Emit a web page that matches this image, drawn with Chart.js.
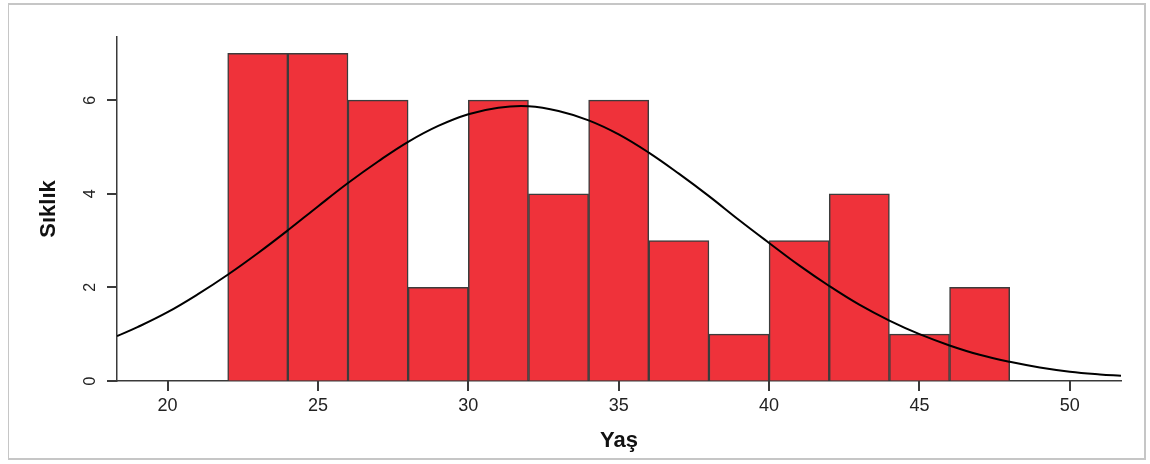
<!DOCTYPE html>
<html lang="tr">
<head>
<meta charset="utf-8">
<title>Yaş dağılımı</title>
<script src="https://cdn.jsdelivr.net/npm/chart.js@4/dist/chart.umd.min.js"></script>
<style>
  html, body { margin: 0; padding: 0; background: #ffffff; }
  #wrap { position: relative; width: 1150px; height: 464px; overflow: hidden; }
  #frame {
    position: absolute; left: 8px; top: 3px; width: 1138px; height: 457px;
    box-sizing: border-box; border: 2px solid #c6c6c6; border-left-width: 1px; border-top-width: 2px;
  }
  #c { position: absolute; left: 0; top: 0; }
</style>
</head>
<body>
<div id="wrap">
  <div id="frame"></div>
  <canvas id="c" width="1150" height="464"></canvas>
</div>
<script>
// Age histogram: bins of width 2 starting at each value of binStarts
const binStarts = [22, 24, 26, 28, 30, 32, 34, 36, 38, 40, 42, 44, 46];
const binWidth = 2;
const counts = [7, 7, 6, 2, 6, 4, 6, 3, 1, 3, 4, 1, 2];

// Fitted normal curve, sampled along the age axis
const curveX = [18.32, 19, 20, 21, 22, 23, 24, 25, 26, 27, 28, 29, 30, 31, 32, 33, 34, 35,
                36, 37, 38, 39, 40, 41, 42, 43, 44, 45, 46, 47, 48, 49, 50, 51, 51.7];
const curveY = [0.96, 1.15, 1.47, 1.85, 2.27, 2.73, 3.22, 3.73, 4.23, 4.69, 5.11, 5.45, 5.70, 5.84, 5.87, 5.77, 5.57, 5.27,
                4.88, 4.43, 3.95, 3.44, 2.95, 2.47, 2.03, 1.63, 1.29, 1.00, 0.76, 0.56, 0.41, 0.29, 0.20, 0.14, 0.11];

// Axis ranges and tick steps
const xRange = [18.32, 51.7];
const yRange = [0, 7.35];
const xStep = 5;
const yStep = 2;

const FONT = '"Liberation Sans", Arial, sans-serif';
const AXIS_COLOR = '#3a3a3a';
const TICK_LEN = 10;

const barData = binStarts.map((s, i) => ({ x: s + binWidth / 2, y: counts[i] }));
const curveData = curveX.map((x, i) => ({ x: x, y: curveY[i] }));

// Outward tick marks on both axes, and y tick labels written rotated (reading bottom to top)
const axisDecor = {
  id: 'axisDecor',
  afterDraw(chart) {
    const xs = chart.scales.x;
    const ys = chart.scales.y;
    const area = chart.chartArea;
    const ctx = chart.ctx;
    ctx.save();
    ctx.fillStyle = AXIS_COLOR;
    xs.ticks.forEach(t => {
      const x = Math.round(xs.getPixelForValue(t.value));
      ctx.fillRect(x - 1, area.bottom, 2, TICK_LEN);
    });
    ys.ticks.forEach(t => {
      const y = Math.round(ys.getPixelForValue(t.value));
      ctx.fillRect(area.left - TICK_LEN, y - 1, TICK_LEN, 2);
    });

    ctx.fillStyle = '#222222';
    ctx.font = '16px ' + FONT;
    ctx.textAlign = 'center';
    ctx.textBaseline = 'middle';
    ys.ticks.forEach(t => {
      const y = ys.getPixelForValue(t.value);
      ctx.save();
      ctx.translate(91, y);
      ctx.rotate(-Math.PI / 2);
      ctx.fillText(String(t.value), 0, 0);
      ctx.restore();
    });
    ctx.restore();
  }
};

new Chart(document.getElementById('c'), {
  data: {
    datasets: [
      {
        type: 'line',
        data: curveData,
        borderColor: '#000000',
        borderWidth: 2,
        pointRadius: 0,
        tension: 0.4,
        fill: false
      },
      {
        type: 'bar',
        data: barData,
        backgroundColor: '#ef323a',
        borderColor: '#3c3c3c',
        borderWidth: 1.5,
        barPercentage: 1,
        categoryPercentage: 1
      }
    ]
  },
  options: {
    responsive: false,
    devicePixelRatio: 1,
    animation: false,
    layout: { padding: { top: 37, right: 29, left: 0, bottom: 0 } },
    plugins: { legend: { display: false }, tooltip: { enabled: false } },
    scales: {
      x: {
        type: 'linear',
        min: xRange[0],
        max: xRange[1],
        offset: false,
        afterFit: s => { s.height = 83; },
        ticks: {
          stepSize: xStep,
          includeBounds: false,
          maxRotation: 0,
          padding: 4,
          color: '#222222',
          font: { family: FONT, size: 18 }
        },
        grid: { offset: false, drawOnChartArea: false, drawTicks: true, tickLength: TICK_LEN, tickColor: 'rgba(0,0,0,0)' },
        border: { display: true, color: AXIS_COLOR, width: 1.5 },
        title: {
          display: true,
          text: 'Yaş',
          color: '#111111',
          font: { family: FONT, size: 22, weight: 'bold' },
          padding: { top: 0, bottom: 10 }
        }
      },
      y: {
        type: 'linear',
        min: yRange[0],
        max: yRange[1],
        afterFit: s => { s.width = 117; },
        ticks: { stepSize: yStep, includeBounds: false, color: 'rgba(0,0,0,0)', font: { size: 1 } },
        grid: { drawOnChartArea: false, drawTicks: true, tickLength: TICK_LEN, tickColor: 'rgba(0,0,0,0)' },
        border: { display: true, color: AXIS_COLOR, width: 1.5 },
        title: {
          display: true,
          text: 'Sıklık',
          color: '#111111',
          font: { family: FONT, size: 22, weight: 'bold' },
          padding: { top: 36, bottom: 0 }
        }
      }
    }
  },
  plugins: [axisDecor]
});
</script>
</body>
</html>
